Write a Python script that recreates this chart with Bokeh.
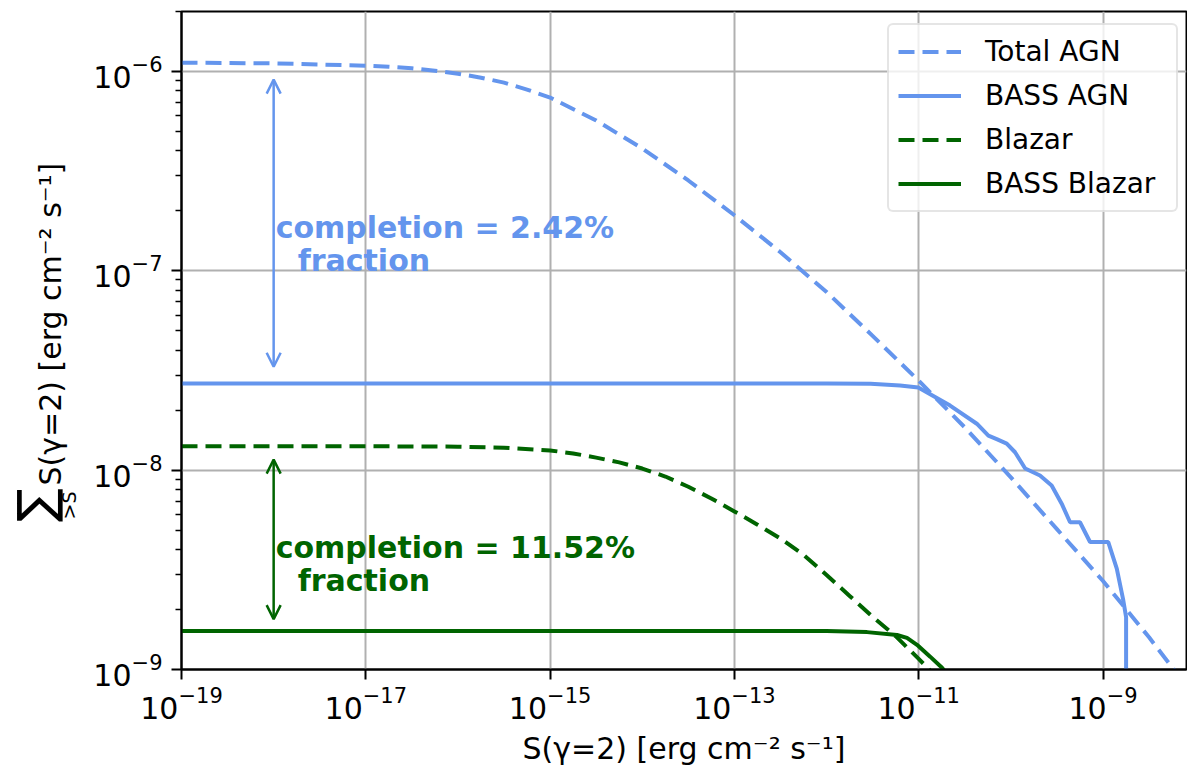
import math
from bokeh.plotting import figure
from bokeh.layouts import row
from bokeh.models import (FixedTicker, Legend, LegendItem, Arrow, OpenHead, Label,
                          LogTickFormatter, Range1d)
from bokeh.embed import file_html
from bokeh.resources import INLINE

# ---------------- data ----------------
total_agn_x = [1e-19, 1e-18, 1e-17, 1.78e-17, 3.16e-17, 5.62e-17, 1e-16, 1.78e-16, 3.16e-16,
               5.62e-16, 1e-15, 3.16e-15, 1e-14, 3.16e-14, 1e-13, 3.16e-13, 1e-12,
               3.16e-12, 1e-11, 3.16e-11, 1e-10, 3.16e-10, 1e-9, 3.16e-9, 8e-9]
total_agn_y = [1.107e-6, 1.099e-6, 1.069e-6, 1.057e-6, 1.038e-6, 1.009e-6, 9.75e-7, 9.31e-7,
               8.79e-7, 8.11e-7, 7.40e-7, 5.68e-7, 4.11e-7, 2.84e-7, 1.90e-7, 1.24e-7,
               7.83e-8, 4.72e-8, 2.81e-8, 1.64e-8, 9.20e-9, 5.06e-9, 2.78e-9, 1.45e-9, 8.3e-10]

bass_agn_x = [1e-19, 1e-15, 1e-12, 3.0e-12, 6.27e-12, 9.9e-12, 1.22e-11, 2.19e-11, 4.27e-11,
              5.70e-11, 7.02e-11, 9.02e-11, 1.11e-10, 1.43e-10, 2.07e-10, 2.77e-10, 3.56e-10,
              4.39e-10, 5.62e-10, 7.23e-10, 1.14e-9, 1.41e-9, 1.66e-9, 1.78e-9, 1.78e-9]
bass_agn_y = [2.72e-8, 2.72e-8, 2.72e-8, 2.71e-8, 2.66e-8, 2.60e-8, 2.46e-8, 2.11e-8, 1.71e-8,
              1.49e-8, 1.43e-8, 1.36e-8, 1.23e-8, 1.02e-8, 9.40e-9, 8.38e-9, 6.79e-9,
              5.48e-9, 5.48e-9, 4.36e-9, 4.36e-9, 3.21e-9, 2.22e-9, 1.83e-9, 1e-10]

blazar_x = [1e-19, 1e-17, 1e-16, 3.16e-16, 1e-15, 1.78e-15, 3.16e-15, 5.62e-15, 1e-14,
            1.78e-14, 3.16e-14, 5.62e-14, 1e-13, 1.78e-13, 3.16e-13, 5.62e-13, 1e-12,
            1.78e-12, 3.16e-12, 5.62e-12, 1e-11, 1.58e-11]
blazar_y = [1.318e-8, 1.318e-8, 1.312e-8, 1.297e-8, 1.256e-8, 1.213e-8, 1.156e-8, 1.094e-8,
            1.019e-8, 9.29e-9, 8.26e-9, 7.21e-9, 6.21e-9, 5.33e-9, 4.54e-9, 3.76e-9,
            2.98e-9, 2.34e-9, 1.84e-9, 1.47e-9, 1.13e-9, 9.1e-10]

bass_blazar_x = [1e-19, 1e-13, 1e-12, 2.75e-12, 5.81e-12, 7.46e-12, 9.58e-12, 1.33e-11,
                 1.79e-11, 2.19e-11]
bass_blazar_y = [1.56e-9, 1.56e-9, 1.558e-9, 1.54e-9, 1.49e-9, 1.44e-9, 1.33e-9, 1.16e-9,
                 1.02e-9, 9.1e-10]

x_ticks = [1e-19, 1e-17, 1e-15, 1e-13, 1e-11, 1e-9]
y_ticks = [1e-9, 1e-8, 1e-7, 1e-6]
y_minor = [m * 10.0 ** e for e in (-9, -8, -7, -6) for m in range(2, 10)]

agn_arrow = (1e-18, 9.1e-7, 3.3e-8)
blazar_arrow = (1e-18, 1.13e-8, 1.79e-9)
agn_text = ("completion = 2.42%", "fraction")
blazar_text = ("completion = 11.52%", "fraction")
series_labels = ["Total AGN", "BASS AGN", "Blazar", "BASS Blazar"]
x_label = "S(γ=2) [erg cm⁻² s⁻¹]"
y_label = "S(γ=2) [erg cm⁻² s⁻¹]"

BLUE = "#6495ED"
GREEN = "#006400"
FONT = "DejaVu Sans"

W, H = 1187, 769
LABEL_W = 86          # width of the strip that holds the rotated y-axis title
FRAME_TOP, FRAME_BOTTOM = 11, 669

# ---------------- main plot ----------------
p = figure(width=W - LABEL_W, height=H, x_axis_type="log", y_axis_type="log",
           x_range=Range1d(1e-19, 8.05e-9), y_range=Range1d(1e-9, 2.0e-6),
           output_backend="svg", toolbar_location=None,
           min_border_left=181 - LABEL_W, min_border_right=1, min_border_top=FRAME_TOP,
           min_border_bottom=H - FRAME_BOTTOM)
p.background_fill_color = "white"
p.border_fill_color = "white"
p.outline_line_color = "black"
p.outline_line_width = 2

r_total = p.line(total_agn_x, total_agn_y, line_color=BLUE, line_width=4, line_dash="16 8")
r_bass = p.line(bass_agn_x, bass_agn_y, line_color=BLUE, line_width=4)
r_blz = p.line(blazar_x, blazar_y, line_color=GREEN, line_width=4, line_dash="16 8")
r_bblz = p.line(bass_blazar_x, bass_blazar_y, line_color=GREEN, line_width=4)

p.xaxis.ticker = FixedTicker(ticks=x_ticks, minor_ticks=[])
p.yaxis.ticker = FixedTicker(ticks=y_ticks, minor_ticks=y_minor)
for ax in (p.xaxis, p.yaxis):
    ax.formatter = LogTickFormatter()
    ax.axis_line_color = "black"
    ax.axis_line_width = 2
    ax.major_tick_line_color = "black"
    ax.major_tick_line_width = 2
    ax.major_tick_out = 10
    ax.major_tick_in = 0
    ax.minor_tick_line_color = "black"
    ax.minor_tick_line_width = 1.5
    ax.minor_tick_out = 6
    ax.minor_tick_in = 0
    ax.major_label_text_font = FONT
    ax.major_label_text_font_size = "30px"
    ax.major_label_text_color = "black"
    ax.axis_label_text_font = FONT
    ax.axis_label_text_font_size = "30px"
    ax.axis_label_text_font_style = "normal"
    ax.axis_label_text_color = "black"
p.xaxis.major_label_standoff = 6
p.yaxis.major_label_standoff = 9
p.xaxis.axis_label = x_label
p.xaxis.axis_label_standoff = 9

p.grid.grid_line_color = "#b0b0b0"
p.grid.grid_line_width = 2

for (ax_, y0, y1), col in ((agn_arrow, BLUE), (blazar_arrow, GREEN)):
    p.add_layout(Arrow(x_start=ax_, y_start=y1, x_end=ax_, y_end=y0,
                       line_color=col, line_width=2.5,
                       start=OpenHead(size=14, line_color=col, line_width=2.5),
                       end=OpenHead(size=14, line_color=col, line_width=2.5)))

for (t1, t2), col, yb1, yb2 in ((agn_text, BLUE, 1.466e-7, 1.0e-7),
                                 (blazar_text, GREEN, 3.65e-9, 2.49e-9)):
    p.add_layout(Label(x=1e-18, y=yb1, x_offset=2, y_offset=10, text=t1, text_font=FONT,
                       text_font_size="30px", text_font_style="bold", text_color=col,
                       text_align="left", text_baseline="alphabetic"))
    p.add_layout(Label(x=1e-18, y=yb2, x_offset=24, y_offset=10, text=t2, text_font=FONT,
                       text_font_size="30px", text_font_style="bold", text_color=col,
                       text_align="left", text_baseline="alphabetic"))

legend = Legend(items=[LegendItem(label=lab, renderers=[r])
                       for lab, r in zip(series_labels, [r_total, r_bass, r_blz, r_bblz])],
                location=(706, FRAME_BOTTOM - 212))
legend.label_text_font = FONT
legend.label_text_font_size = "28px"
legend.label_text_color = "black"
legend.glyph_width = 63
legend.glyph_height = 35
legend.label_height = 35
legend.label_width = 182
legend.label_standoff = 24
legend.padding = 9
legend.spacing = 9
legend.margin = 0
legend.border_line_color = "#cccccc"
legend.border_line_width = 2
legend.background_fill_color = "white"
legend.background_fill_alpha = 0.8
if "border_radius" in Legend.properties():
    legend.border_radius = 6
p.add_layout(legend)

# ---------------- strip holding the y-axis title ----------------
# its frame is aligned with the main plot's frame, so y data == canvas pixel row
lf = figure(width=LABEL_W, height=H, x_range=Range1d(0, LABEL_W),
            y_range=Range1d(FRAME_BOTTOM, FRAME_TOP),
            output_backend="svg", toolbar_location=None,
            x_axis_location=None, y_axis_location=None,
            min_border_left=0, min_border_right=0, min_border_top=FRAME_TOP,
            min_border_bottom=H - FRAME_BOTTOM)
lf.outline_line_color = None
lf.grid.visible = False
lf.background_fill_color = "white"
lf.border_fill_color = "white"
common = dict(angle=math.pi / 2, text_font=FONT, text_color="black")
lf.add_layout(Label(x=50, y=485, text=y_label, text_font_size="30px",
                    text_align="left", text_baseline="alphabetic", **common))
lf.add_layout(Label(x=35, y=505, text="∑", text_font_size="50px",
                    text_align="center", text_baseline="middle", **common))
lf.add_layout(Label(x=68, y=505, text=">S", text_font_size="19px",
                    text_align="center", text_baseline="middle", **common))

layout = row(lf, p, spacing=0)
open("out.html", "w").write(file_html(layout, INLINE))
